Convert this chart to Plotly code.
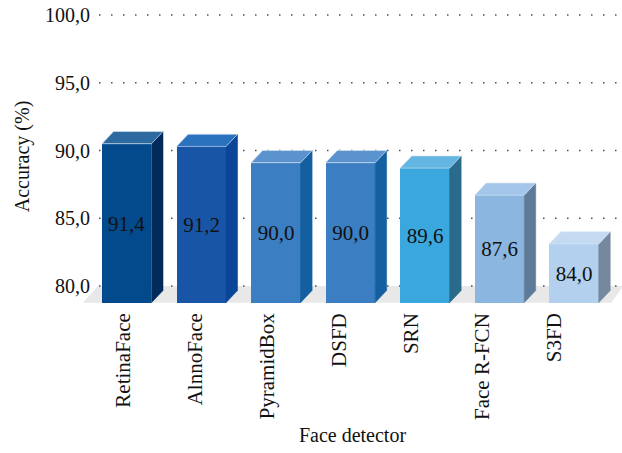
import plotly.graph_objects as go

# ---- data ----
detectors = ["RetinaFace", "AlnnoFace", "PyramidBox", "DSFD", "SRN", "Face R-FCN", "S3FD"]
accuracy = [91.4, 91.2, 90.0, 90.0, 89.6, 87.6, 84.0]
y_ticks = [80, 85, 90, 95, 100]

front_colors = ["#034A8C", "#1955A6", "#3B7EC1", "#3B7EC1", "#3AA8DE", "#8BB6E0", "#B3D1EE"]
side_colors = ["#022B5C", "#0B4597", "#135FA0", "#135FA0", "#2A6B8B", "#5E7A99", "#75889E"]
top_colors = ["#2D6A9F", "#2B72BE", "#5A93CD", "#5A93CD", "#64B6E2", "#A3C6EA", "#C4DAF1"]

# ---- 3D look parameters ----
FLOOR = 80.0
DY = 0.9        # depth offset in value units
DX = 0.155      # depth offset in category units
FRONT_BASE = FLOOR - 1.23
BAR_W = 0.664

FONT = "Liberation Serif"
xs = list(range(len(detectors)))

fig = go.Figure()

# front faces
fig.add_trace(go.Bar(
    x=xs,
    y=[v - DY - FRONT_BASE for v in accuracy],
    base=[FRONT_BASE] * len(accuracy),
    width=BAR_W,
    marker=dict(color=front_colors, line=dict(width=0)),
    customdata=accuracy,
    texttemplate="%{customdata:.1f}",
    textposition="inside",
    insidetextanchor="middle",
    textangle=0,
    textfont=dict(family=FONT, size=21, color="#111111"),
    hoverinfo="skip",
    showlegend=False,
))

# side and top faces
for i, v in enumerate(accuracy):
    xl = i - BAR_W / 2
    xr = i + BAR_W / 2
    top = v - DY
    fig.add_trace(go.Scatter(
        x=[xr, xr, xr + DX, xr + DX, xr],
        y=[FRONT_BASE, top, top + DY, FRONT_BASE + DY, FRONT_BASE],
        mode="lines", fill="toself", fillcolor=side_colors[i],
        line=dict(width=0.5, color=side_colors[i]),
        hoverinfo="skip", showlegend=False,
    ))
    fig.add_trace(go.Scatter(
        x=[xl, xr, xr + DX, xl + DX, xl],
        y=[top, top, top + DY, top + DY, top],
        mode="lines", fill="toself", fillcolor=top_colors[i],
        line=dict(width=0.6, color="#D8E6F4"),
        hoverinfo="skip", showlegend=False,
    ))

# floor and dotted gridlines (behind bars)
x_left_front = -0.5866
x_right_front = 6.50
shapes = [dict(
    type="path",
    path=f"M {x_left_front},{FRONT_BASE} L {x_right_front},{FRONT_BASE} "
         f"L {x_right_front + 0.16},{FLOOR} L {x_left_front + 0.2},{FLOOR} Z",
    xref="x", yref="y", fillcolor="#E8E8E8", line=dict(width=0), layer="below",
)]
for t in y_ticks:
    shapes.append(dict(
        type="line", xref="x", yref="y",
        x0=-0.37, x1=6.57, y0=t, y1=t,
        line=dict(color="#333333", width=1.3, dash="1.3px,10.7px"),
        layer="below",
    ))

fig.update_layout(
    width=622, height=453,
    margin=dict(l=83, r=0, t=10, b=150),
    paper_bgcolor="white", plot_bgcolor="white",
    separators=",.",
    font=dict(family=FONT, size=20, color="#111111"),
    shapes=shapes,
    bargap=0,
    xaxis=dict(
        range=[-0.5866, 6.6443],
        tickmode="array",
        tickvals=[i - 0.05 - 0.035 * i for i in xs],
        ticktext=detectors,
        tickangle=-90,
        showgrid=False, zeroline=False, showline=False, ticks="",
        ticklabelstandoff=5,
        tickfont=dict(family=FONT, size=21),
        title=dict(text="Face detector", standoff=9, font=dict(family=FONT, size=20)),
        automargin=False,
    ),
    yaxis=dict(
        range=[78.745, 100.37],
        tickmode="array",
        tickvals=y_ticks,
        tickformat=".1f",
        showgrid=False, zeroline=False, showline=False, ticks="",
        ticklabelstandoff=-8,
        tickfont=dict(family=FONT, size=20),
        title=dict(text="Accuracy (%)", standoff=10, font=dict(family=FONT, size=20)),
        automargin=False,
    ),
)

fig.write_html("out.html")
